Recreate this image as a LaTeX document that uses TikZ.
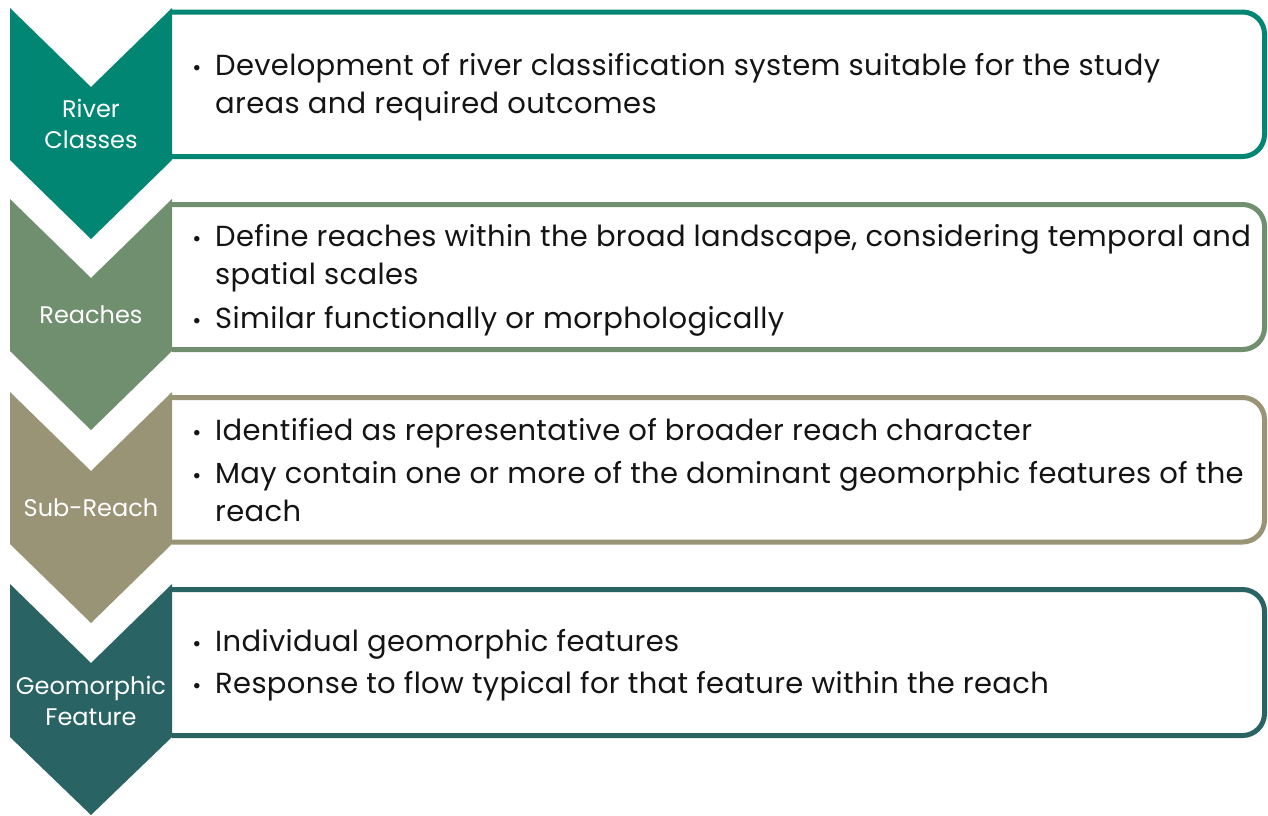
\documentclass[tikz,border=0pt]{standalone}
\usepackage{fontspec}
\setmainfont{Poppins}
\newfontfamily\bodyfont[LetterSpace=1.2]{Poppins}
\definecolor{cA}{RGB}{0,134,114}
\definecolor{cB}{RGB}{112,143,110}
\definecolor{cC}{RGB}{154,148,118}
\definecolor{cD}{RGB}{42,99,100}
\definecolor{txt}{RGB}{20,20,20}
\tikzset{
  chev/.style={fill=#1, draw=none},
  boxline/.style={draw=#1, line width=5pt, rounded corners=22pt},
  lab/.style={text=white, font=\fontsize{24}{31.5}\selectfont, align=center, inner sep=0pt},
  ln/.style={anchor=base west, inner sep=0pt, text=txt, font=\bodyfont\fontsize{29}{37}\selectfont},
  bul/.style={anchor=base, inner sep=0pt, text=txt, font=\fontsize{22}{22}\selectfont},
}
\begin{document}
\begin{tikzpicture}[x=1pt,y=-1pt]
\useasboundingbox (0,0) rectangle (1268,815);
% chevrons and boxes
\fill[chev=cA] (10,8) -- (91,87) -- (172,8) -- (172,160) -- (91,239) -- (10,160) -- cycle;
\draw[boxline=cA] (172,12) -- (1264.5,12) -- (1264.5,156.5) -- (172,156.5);
\fill[chev=cB] (10,199) -- (91,278) -- (172,199) -- (172,351) -- (91,430) -- (10,351) -- cycle;
\draw[boxline=cB] (172,204.5) -- (1264.5,204.5) -- (1264.5,349.5) -- (172,349.5);
\fill[chev=cC] (10,392) -- (91,471) -- (172,392) -- (172,544) -- (91,623) -- (10,544) -- cycle;
\draw[boxline=cC] (172,397.5) -- (1264.5,397.5) -- (1264.5,542) -- (172,542);
\fill[chev=cD] (10,584) -- (91,663) -- (172,584) -- (172,737) -- (91,815) -- (10,737) -- cycle;
\draw[boxline=cD] (172,589.5) -- (1264.5,589.5) -- (1264.5,735.5) -- (172,735.5);
% labels
\node[lab] (L1) at (91,124) {River\\Classes};
\node[lab] (L2) at (91,315) {Reaches};
\node[lab] (L3) at (91,508) {Sub-Reach};
\node[lab] (L4) at (91,701) {Geomorphic\\Feature};
% box 1
\node[bul] (b11) at (197,75) {•};
\node[ln] (t11) at (215,75) {Development of river classification system suitable for the study};
\node[ln] (t12) at (215,113) {areas and required outcomes};
% box 2
\node[bul] (b21) at (197,246) {•};
\node[ln] (t21) at (215,246) {Define reaches within the broad landscape, considering temporal and};
\node[ln] (t22) at (215,284) {spatial scales};
\node[bul] (b22) at (197,328) {•};
\node[ln] (t23) at (215,328) {Similar functionally or morphologically};
% box 3
\node[bul] (b31) at (197,440) {•};
\node[ln] (t31) at (215,440) {Identified as representative of broader reach character};
\node[bul] (b32) at (197,483) {•};
\node[ln] (t32) at (215,483) {May contain one or more of the dominant geomorphic features of the};
\node[ln] (t33) at (215,521) {reach};
% box 4
\node[bul] (b41) at (197,651) {•};
\node[ln] (t41) at (215,651) {Individual geomorphic features};
\node[bul] (b42) at (197,693) {•};
\node[ln] (t42) at (215,693) {Response to flow typical for that feature within the reach};
\end{tikzpicture}
\end{document}
